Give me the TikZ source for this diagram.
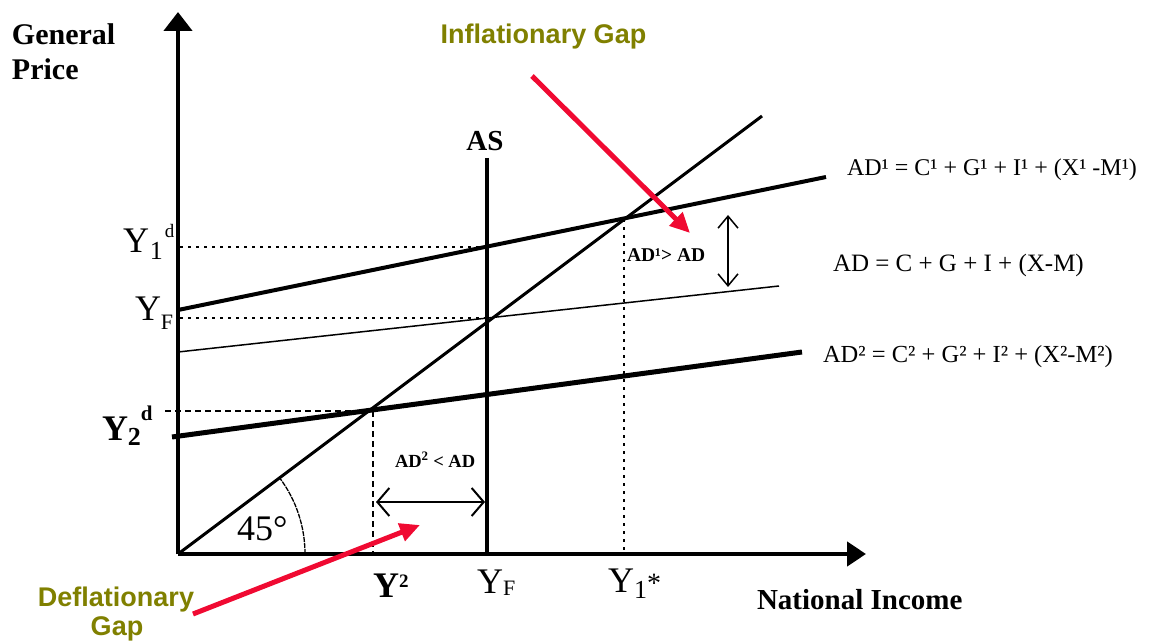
\documentclass[tikz,border=0pt]{standalone}
\usepackage{fontspec}
\setmainfont{Liberation Serif}
\newfontfamily\arialfont{Liberation Sans}
\usetikzlibrary{arrows.meta}
\definecolor{olivegap}{RGB}{128,128,0}
\definecolor{redarrow}{RGB}{240,10,50}
\newcommand{\fs}[1]{\fontsize{#1}{#1}\selectfont}
\begin{document}
\begin{tikzpicture}[x=1pt,y=-1pt,
  axisline/.style={line width=4.5pt},
  adone/.style={line width=4pt},
  adzero/.style={line width=1.5pt},
  adtwo/.style={line width=5pt},
  fortyfive/.style={line width=3pt},
  asline/.style={line width=3.5pt},
  dotline/.style={line width=1.5pt,dash pattern=on 3pt off 5pt},
  dashline/.style={line width=1.5pt,dash pattern=on 6pt off 4pt},
  redarr/.style={draw=redarrow,line width=5pt,-{Triangle[length=20pt,width=18pt]}},
  gapbar/.style={line width=2pt,{Straight Barb[length=12pt,width=28pt]}-{Straight Barb[length=12pt,width=28pt]}},
  gapbarv/.style={line width=1.5pt,{Straight Barb[length=12pt,width=20pt]}-{Straight Barb[length=12pt,width=20pt]}},
  lab/.style={inner sep=0pt,outer sep=0pt},
  gaptext/.style={lab,text=olivegap,font=\arialfont\bfseries\fs{27}}
]
\useasboundingbox (0,0) rectangle (1154,644);
% coordinates
\coordinate (O) at (178,554);
\coordinate (ytop) at (178,12);
\coordinate (xend) at (866,554);
\coordinate (Lend) at (762,116);
\coordinate (AD1a) at (178,310);
\coordinate (AD1b) at (826,177);
\coordinate (ADa) at (178,352);
\coordinate (ADb) at (779,286);
\coordinate (AD2a) at (172,437);
\coordinate (AD2b) at (802,352);
\coordinate (AStop) at (487,158);
\coordinate (ASbot) at (487,554);
\coordinate (E1) at (487,247);
\coordinate (E1l) at (180,247);
\coordinate (EF) at (487,318);
\coordinate (EFl) at (180,318);
\coordinate (E2) at (373,411);
\coordinate (E2l) at (165,411);
\coordinate (E2b) at (373,554);
\coordinate (Es) at (624,219);
\coordinate (Esb) at (624,554);
\coordinate (IGs) at (532,76);
\coordinate (IGe) at (690,233);
\coordinate (DGs) at (193,614);
\coordinate (DGe) at (420,525);
\coordinate (Vt) at (728,215);
\coordinate (Vb) at (728,287);
\coordinate (Hl) at (376,502);
\coordinate (Hr) at (485,502);
\coordinate (arcs) at (305,554);
% dashed guides
\draw[dotline] (E1l) -- (E1);
\draw[dotline] (EFl) -- (EF);
\draw[dashline] (E2l) -- (E2);
\draw[dashline] (E2) -- (E2b);
\draw[dotline] (Es) -- (Esb);
% curves
\draw[adzero] (ADa) -- (ADb);
\draw[adone] (AD1a) -- (AD1b);
\draw[adtwo] (AD2a) -- (AD2b);
\draw[fortyfive] (O) -- (Lend);
\draw[asline] (AStop) -- (ASbot);
% angle arc
\draw[line width=1.3pt,dash pattern=on 5pt off 1pt] (arcs) arc[start angle=0,end angle=37,radius=127pt];
% axes
\draw[axisline,-{Triangle[length=19pt,width=28pt]}] (O) -- (ytop);
\draw[axisline,-{Triangle[length=19pt,width=24pt]}] (O) -- (xend);
% gap bars
\draw[gapbarv] (Vt) -- (Vb);
\draw[gapbar] (Hl) -- (Hr);
% red arrows
\draw[redarr] (IGs) -- (IGe);
\draw[redarr] (DGs) -- (DGe);
% labels
\node[lab,anchor=base west,font=\bfseries\fs{30}] (gen) at (12,45) {General};
\node[lab,anchor=base west,font=\bfseries\fs{30}] (price) at (12,80) {Price};
\node[lab,anchor=base,font=\bfseries\fs{29}] (AS) at (485,151) {AS};
\node[gaptext,anchor=base] (ig) at (543.5,44) {Inflationary Gap};
\node[gaptext,anchor=base] (dg1) at (116,606) {Deflationary};
\node[gaptext,anchor=base] (dg2) at (117,635) {Gap};
\node[lab,anchor=base west,font=\bfseries\fs{29}] (ni) at (757,609) {National Income};
\node[lab,anchor=base west,font=\fs{24}] (eq1) at (847,176) {AD¹ = C¹ + G¹ + I¹ + (X¹ -M¹)};
\node[lab,anchor=base west,font=\fs{25}] (eq0) at (833,272) {AD = C + G + I + (X-M)};
\node[lab,anchor=base west,font=\fs{24.5}] (eq2) at (823,362) {AD² = C² + G² + I² + (X²-M²)};
\node[lab,anchor=base west,font=\bfseries\fs{19.5}] (gt) at (627,262) {AD¹> AD};
\node[lab,anchor=base west,font=\bfseries\fs{18.5}] (lt) at (395,467) {AD\textsuperscript{2} < AD};
\node[lab,anchor=base west,font=\fs{36}] (deg) at (237,540) {45°};
\node[lab,anchor=base west,font=\fs{36}] (y1d) at (123,253) {Y\raisebox{-7pt}{\fs{26}\kern1pt 1}\raisebox{15pt}{\fs{19}\kern2pt d}};
\node[lab,anchor=base west,font=\fs{36}] (yfl) at (135,321) {Y\raisebox{-9pt}{\fs{22}F}};
\node[lab,anchor=base west,font=\bfseries\fs{36}] (y2d) at (102,440) {Y\raisebox{-5pt}{\fs{26}2}\raisebox{20pt}{\fs{21}d}};
\node[lab,anchor=base west,font=\bfseries\fs{36}] (y2b) at (373,597) {Y\raisebox{10pt}{\fs{19}2}};
\node[lab,anchor=base west,font=\fs{36}] (yfb) at (477,593) {Y\raisebox{-2pt}{\fs{22}F}};
\node[lab,anchor=base west,font=\fs{36}] (y1s) at (608,592) {Y\raisebox{-6pt}{\fs{26}1}{\fs{28}*}};
\end{tikzpicture}
\end{document}
